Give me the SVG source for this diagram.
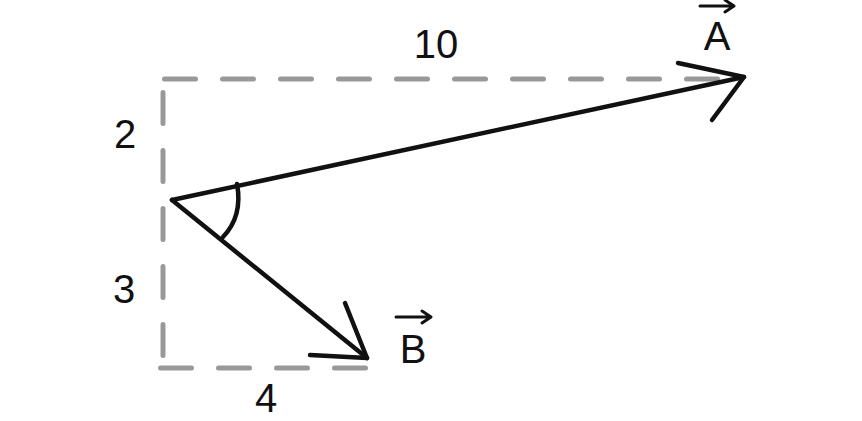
<svg xmlns="http://www.w3.org/2000/svg" width="862" height="421" viewBox="0 0 862 421">
<style>
.dash{stroke:#999;stroke-width:5;stroke-linecap:round;stroke-dasharray:31 27;fill:none}
.ink{stroke:#111;stroke-width:4.5;stroke-linecap:round;stroke-linejoin:round;fill:none}
.lbl{font-family:"Liberation Sans",Arial,sans-serif;font-size:40px;fill:#111;text-anchor:middle}
.vec{stroke:#111;stroke-width:3;stroke-linecap:round;stroke-linejoin:round;fill:none}
</style>
<rect width="862" height="421" fill="#fff"/>
<g id="guides">
<line class="dash" x1="164.5" y1="79" x2="742" y2="79"/>
<line class="dash" x1="163" y1="92.5" x2="163" y2="362"/>
<line class="dash" x1="160.5" y1="368" x2="366" y2="368"/>
</g>
<g id="connectors">
<line class="ink" x1="172" y1="200" x2="744" y2="77"/>
<polyline class="ink" points="678,63 744,77 712,120"/>
<line class="ink" x1="172" y1="200" x2="367" y2="358"/>
<polyline class="ink" points="345,303 367,358 310,355"/>
<path class="ink" d="M237,184 Q243,216 223,237"/>
</g>
<g id="labels">
<text class="lbl" x="436" y="58">10</text>
<text class="lbl" x="125" y="148">2</text>
<text class="lbl" x="124" y="303">3</text>
<text class="lbl" x="266" y="412">4</text>
</g>
<g id="vecA">
<text class="lbl" x="717" y="50">A</text>
<path class="vec" d="M700,6 H734 M725,0 L734,6 L725,12"/>
</g>
<g id="vecB">
<text class="lbl" x="413" y="363">B</text>
<path class="vec" d="M396,317 H431 M422,311 L431,317 L422,323"/>
</g>
</svg>
